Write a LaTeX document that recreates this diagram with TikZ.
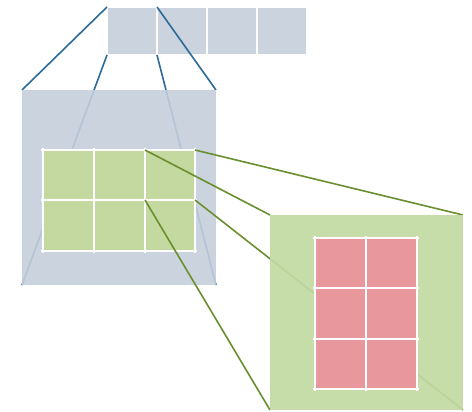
\documentclass[tikz,border=0pt]{standalone}
\usetikzlibrary{calc}
\definecolor{slate}{HTML}{CBD3DF}
\definecolor{steel}{HTML}{2B6A99}
\definecolor{leaf}{HTML}{C3D9A0}
\definecolor{leafbig}{HTML}{C7DDA9}
\definecolor{olive}{HTML}{6A8F2E}
\definecolor{rose}{HTML}{E8989C}
\tikzset{
  tile/.style={fill=slate, draw=white, line width=2pt},
  bluelink/.style={draw=steel, line width=1.6pt},
  greenlink/.style={draw=olive, line width=1.6pt},
  gridline/.style={draw=white, line width=2pt},
}
\begin{document}
\begin{tikzpicture}[x=1pt,y=-1pt]
\useasboundingbox (0,0) rectangle (472,412);
% strip of four tiles
\foreach \i in {0,1,2,3}
  \path[tile] (107+50*\i,7) rectangle (157+50*\i,55);
\coordinate (tA) at (107,7);
\coordinate (tB) at (157,7);
\coordinate (tC) at (107,55);
\coordinate (tD) at (157,55);
% enlarged view of the first tile
\coordinate (gA) at (22,90);
\coordinate (gB) at (216,90);
\coordinate (gC) at (22,285);
\coordinate (gD) at (216,285);
\fill[slate] (gA) rectangle (gD);
\draw[bluelink] (tA) -- (gA);
\draw[bluelink] (tB) -- (gB);
\draw[bluelink] (tC) -- (gC);
\draw[bluelink] (tD) -- (gD);
\fill[slate, fill opacity=0.86] (gA) rectangle (gD);
% 3x2 green grid
\fill[leaf] (43,150) rectangle (195,251);
\foreach \x in {43,94,145,195}
  \draw[gridline] (\x,148) -- (\x,253);
\foreach \y in {150,200,251}
  \draw[gridline] (41,\y) -- (197,\y);
\coordinate (cA) at (145,150);
\coordinate (cB) at (195,150);
\coordinate (cC) at (145,200);
\coordinate (cD) at (195,200);
% enlarged view of one green cell
\coordinate (zA) at (270,215);
\coordinate (zB) at (463,215);
\coordinate (zC) at (270,410);
\coordinate (zD) at (463,410);
\fill[leafbig] (zA) rectangle (zD);
\draw[greenlink] (cA) -- (zA);
\draw[greenlink] (cB) -- (zB);
\draw[greenlink] (cC) -- (zC);
\draw[greenlink] (cD) -- (zD);
\fill[leafbig, fill opacity=0.88] (zA) rectangle (zD);
% 2x3 pink grid
\fill[rose] (315,238) rectangle (417,389);
\foreach \x in {315,366,417}
  \draw[gridline] (\x,236) -- (\x,391);
\foreach \y in {238,288,339,389}
  \draw[gridline] (313,\y) -- (419,\y);
\end{tikzpicture}
\end{document}
